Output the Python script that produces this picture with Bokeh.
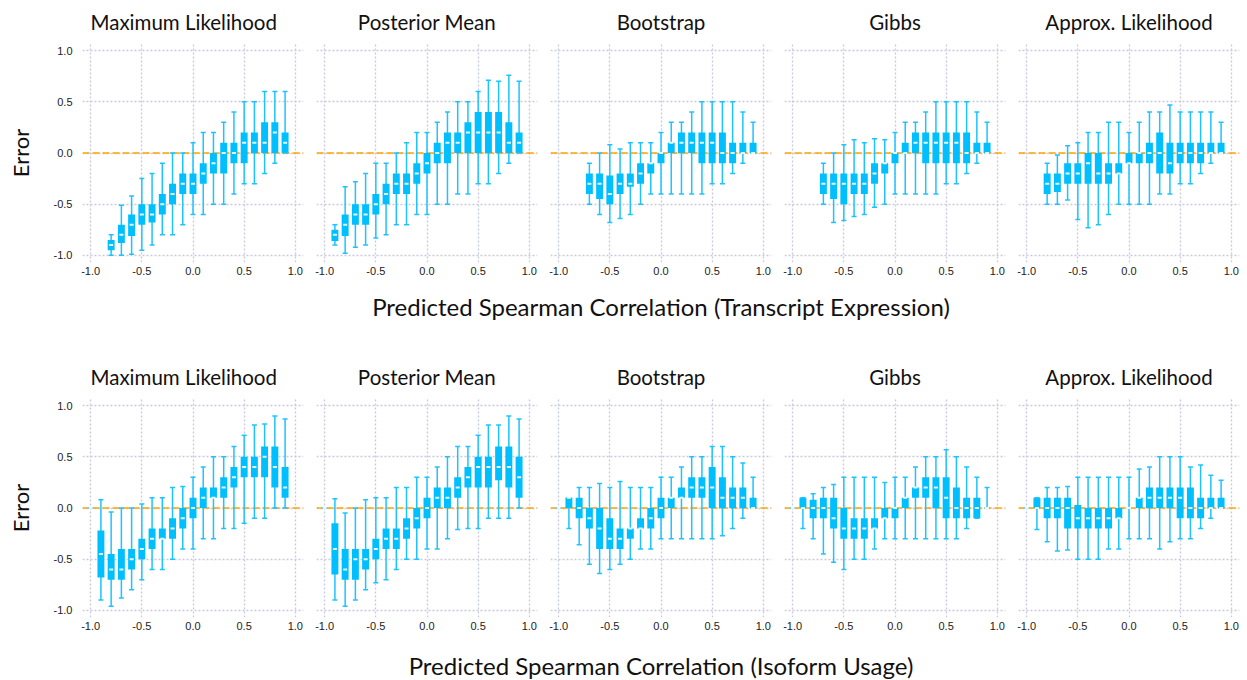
from bokeh.plotting import figure
from bokeh.layouts import column, row
from bokeh.models import Range1d, FixedTicker, Span, PrintfTickFormatter
from bokeh.embed import file_html
from bokeh.resources import INLINE

methods = ["Maximum Likelihood", "Posterior Mean", "Bootstrap", "Gibbs", "Approx. Likelihood"]
row_titles = ["Predicted Spearman Correlation (Transcript Expression)",
              "Predicted Spearman Correlation (Isoform Usage)"]
y_label = "Error"
axis_ticks = [-1.0, -0.5, 0.0, 0.5, 1.0]

# ---------------- Transcript expression ----------------
te_ml_x = [-0.8, -0.7, -0.6, -0.5, -0.4, -0.3, -0.2, -0.1, 0.0, 0.1, 0.2, 0.3, 0.4, 0.5, 0.6, 0.7, 0.8, 0.9]
te_ml_lo = [-1.0, -1.0, -0.99, -0.95, -0.9, -0.8, -0.8, -0.7, -0.6, -0.6, -0.5, -0.5, -0.4, -0.3, -0.3, -0.2, -0.1, 0.0]
te_ml_q1 = [-0.95, -0.88, -0.81, -0.7, -0.68, -0.6, -0.5, -0.4, -0.4, -0.3, -0.2, -0.2, -0.1, -0.1, 0.0, 0.0, 0.0, 0.0]
te_ml_md = [-0.9, -0.8, -0.7, -0.6, -0.6, -0.5, -0.4, -0.3, -0.3, -0.2, -0.1, 0.0, 0.0, 0.1, 0.1, 0.1, 0.2, 0.1]
te_ml_q3 = [-0.85, -0.7, -0.6, -0.5, -0.5, -0.4, -0.3, -0.2, -0.2, -0.1, 0.0, 0.1, 0.1, 0.2, 0.2, 0.3, 0.3, 0.2]
te_ml_hi = [-0.8, -0.51, -0.42, -0.25, -0.2, -0.1, 0.0, 0.0, 0.1, 0.2, 0.2, 0.3, 0.4, 0.5, 0.5, 0.6, 0.6, 0.6]

te_pm_x = [-0.9, -0.8, -0.7, -0.6, -0.5, -0.4, -0.3, -0.2, -0.1, 0.0, 0.1, 0.2, 0.3, 0.4, 0.5, 0.6, 0.7, 0.8, 0.9]
te_pm_lo = [-0.9, -0.98, -0.92, -0.9, -0.83, -0.8, -0.7, -0.7, -0.6, -0.6, -0.5, -0.5, -0.4, -0.4, -0.3, -0.3, -0.2, -0.1, 0.0]
te_pm_q1 = [-0.86, -0.81, -0.7, -0.7, -0.6, -0.5, -0.4, -0.4, -0.3, -0.2, -0.1, -0.1, 0.0, 0.0, 0.0, 0.0, 0.0, 0.0, 0.0]
te_pm_md = [-0.8, -0.7, -0.6, -0.6, -0.5, -0.4, -0.3, -0.3, -0.2, -0.1, 0.0, 0.1, 0.1, 0.2, 0.2, 0.2, 0.2, 0.1, 0.1]
te_pm_q3 = [-0.75, -0.6, -0.5, -0.5, -0.4, -0.3, -0.2, -0.2, -0.1, 0.0, 0.1, 0.2, 0.2, 0.3, 0.4, 0.4, 0.4, 0.3, 0.2]
te_pm_hi = [-0.7, -0.33, -0.28, -0.2, -0.1, -0.1, 0.0, 0.1, 0.2, 0.2, 0.3, 0.4, 0.5, 0.5, 0.6, 0.71, 0.7, 0.76, 0.7]

te_bs_x = [-0.7, -0.6, -0.5, -0.4, -0.3, -0.2, -0.1, 0.0, 0.1, 0.2, 0.3, 0.4, 0.5, 0.6, 0.7, 0.8, 0.9]
te_bs_lo = [-0.5, -0.6, -0.68, -0.64, -0.6, -0.5, -0.4, -0.4, -0.4, -0.4, -0.4, -0.4, -0.3, -0.3, -0.2, -0.1, 0.0]
te_bs_q1 = [-0.4, -0.45, -0.5, -0.4, -0.33, -0.3, -0.2, -0.1, 0.0, 0.0, 0.0, -0.1, -0.1, -0.1, -0.1, 0.0, 0.0]
te_bs_md = [-0.3, -0.3, -0.4, -0.3, -0.3, -0.2, -0.1, 0.0, 0.1, 0.1, 0.1, 0.1, 0.1, 0.0, 0.0, 0.0, 0.0]
te_bs_q3 = [-0.2, -0.2, -0.22, -0.2, -0.2, -0.1, -0.1, 0.0, 0.1, 0.2, 0.2, 0.2, 0.2, 0.2, 0.1, 0.1, 0.1]
te_bs_hi = [-0.1, 0.0, 0.08, 0.04, 0.1, 0.1, 0.1, 0.2, 0.3, 0.3, 0.4, 0.5, 0.5, 0.5, 0.5, 0.4, 0.3]

te_gb_x = [-0.7, -0.6, -0.5, -0.4, -0.3, -0.2, -0.1, 0.0, 0.1, 0.2, 0.3, 0.4, 0.5, 0.6, 0.7, 0.8, 0.9]
te_gb_lo = [-0.5, -0.68, -0.66, -0.62, -0.6, -0.53, -0.5, -0.4, -0.4, -0.4, -0.4, -0.4, -0.3, -0.3, -0.2, -0.1, 0.0]
te_gb_q1 = [-0.4, -0.45, -0.5, -0.4, -0.4, -0.3, -0.2, -0.1, 0.0, 0.0, -0.1, -0.1, -0.1, -0.1, -0.1, 0.0, 0.0]
te_gb_md = [-0.3, -0.3, -0.3, -0.3, -0.3, -0.2, -0.1, 0.0, 0.0, 0.1, 0.1, 0.1, 0.1, 0.1, 0.0, 0.0, 0.0]
te_gb_q3 = [-0.2, -0.2, -0.2, -0.2, -0.2, -0.1, -0.1, 0.0, 0.1, 0.2, 0.2, 0.2, 0.2, 0.2, 0.2, 0.1, 0.1]
te_gb_hi = [-0.1, 0.0, 0.08, 0.13, 0.1, 0.14, 0.13, 0.2, 0.3, 0.3, 0.4, 0.5, 0.5, 0.5, 0.5, 0.4, 0.3]

te_al_x = [-0.8, -0.7, -0.6, -0.5, -0.4, -0.3, -0.2, -0.1, 0.0, 0.1, 0.2, 0.3, 0.4, 0.5, 0.6, 0.7, 0.8, 0.9]
te_al_lo = [-0.5, -0.5, -0.46, -0.65, -0.73, -0.7, -0.6, -0.5, -0.5, -0.5, -0.5, -0.4, -0.4, -0.3, -0.3, -0.2, -0.1, 0.0]
te_al_q1 = [-0.4, -0.38, -0.3, -0.3, -0.3, -0.3, -0.3, -0.2, -0.1, -0.1, -0.1, -0.2, -0.2, -0.1, -0.1, -0.1, 0.0, 0.0]
te_al_md = [-0.3, -0.3, -0.2, -0.2, -0.1, -0.2, -0.2, -0.2, -0.1, 0.0, 0.0, 0.0, -0.1, 0.0, 0.0, 0.0, 0.0, 0.0]
te_al_q3 = [-0.2, -0.2, -0.1, -0.1, 0.0, 0.0, -0.1, -0.1, 0.0, 0.0, 0.1, 0.2, 0.1, 0.1, 0.1, 0.1, 0.1, 0.1]
te_al_hi = [-0.1, -0.02, 0.07, 0.1, 0.2, 0.2, 0.3, 0.3, 0.2, 0.3, 0.4, 0.4, 0.47, 0.4, 0.4, 0.4, 0.4, 0.3]

# ---------------- Isoform usage ----------------
iu_x = [-1.0, -0.9, -0.8, -0.7, -0.6, -0.5, -0.4, -0.3, -0.2, -0.1, 0.0, 0.1, 0.2, 0.3, 0.4, 0.5, 0.6, 0.7, 0.8, 0.9]

iu_ml_lo = [0.0, -0.9, -0.96, -0.88, -0.8, -0.7, -0.6, -0.6, -0.5, -0.4, -0.4, -0.3, -0.3, -0.2, -0.2, -0.15, -0.1, -0.1, 0.0, 0.0]
iu_ml_q1 = [0.0, -0.68, -0.7, -0.7, -0.6, -0.5, -0.4, -0.3, -0.3, -0.2, -0.1, 0.0, 0.1, 0.1, 0.2, 0.3, 0.3, 0.3, 0.2, 0.1]
iu_ml_md = [0.0, -0.45, -0.6, -0.6, -0.5, -0.4, -0.3, -0.3, -0.2, -0.1, 0.0, 0.1, 0.1, 0.2, 0.3, 0.4, 0.4, 0.5, 0.4, 0.2]
iu_ml_q3 = [0.0, -0.22, -0.45, -0.4, -0.4, -0.3, -0.2, -0.2, -0.1, 0.0, 0.1, 0.2, 0.2, 0.3, 0.4, 0.5, 0.5, 0.6, 0.6, 0.4]
iu_ml_hi = [0.0, 0.08, -0.04, 0.0, 0.0, 0.04, 0.1, 0.1, 0.2, 0.21, 0.3, 0.4, 0.5, 0.5, 0.6, 0.71, 0.81, 0.82, 0.9, 0.87]

iu_pm_lo = [0.0, -0.9, -0.96, -0.9, -0.8, -0.73, -0.7, -0.6, -0.5, -0.5, -0.4, -0.4, -0.3, -0.21, -0.2, -0.2, -0.1, -0.1, -0.1, 0.0]
iu_pm_q1 = [0.0, -0.65, -0.7, -0.7, -0.6, -0.5, -0.4, -0.4, -0.3, -0.2, -0.1, 0.0, 0.0, 0.1, 0.2, 0.2, 0.2, 0.27, 0.2, 0.1]
iu_pm_md = [0.0, -0.4, -0.6, -0.5, -0.5, -0.4, -0.3, -0.3, -0.2, -0.1, 0.0, 0.1, 0.1, 0.2, 0.3, 0.4, 0.4, 0.4, 0.4, 0.3]
iu_pm_q3 = [0.0, -0.15, -0.4, -0.4, -0.4, -0.3, -0.2, -0.2, -0.1, 0.0, 0.1, 0.2, 0.2, 0.3, 0.4, 0.5, 0.5, 0.6, 0.6, 0.5]
iu_pm_hi = [0.0, 0.09, -0.05, 0.0, 0.08, 0.1, 0.1, 0.2, 0.2, 0.3, 0.3, 0.4, 0.5, 0.6, 0.6, 0.71, 0.81, 0.81, 0.9, 0.87]

iu_bs_lo = [0.0, -0.2, -0.36, -0.55, -0.64, -0.6, -0.55, -0.5, -0.4, -0.4, -0.3, -0.3, -0.3, -0.3, -0.3, -0.3, -0.27, -0.2, -0.1, 0.0]
iu_bs_q1 = [0.0, 0.0, -0.1, -0.2, -0.4, -0.4, -0.4, -0.3, -0.2, -0.2, -0.1, 0.0, 0.1, 0.1, 0.1, 0.0, 0.0, 0.0, 0.0, 0.0]
iu_bs_md = [0.0, 0.1, 0.0, -0.1, -0.2, -0.3, -0.3, -0.2, -0.2, -0.1, 0.0, 0.1, 0.1, 0.2, 0.2, 0.2, 0.1, 0.1, 0.1, 0.0]
iu_bs_q3 = [0.0, 0.1, 0.1, 0.0, 0.0, -0.1, -0.2, -0.2, -0.1, 0.0, 0.1, 0.1, 0.2, 0.3, 0.3, 0.4, 0.3, 0.2, 0.2, 0.1]
iu_bs_hi = [0.0, 0.1, 0.2, 0.2, 0.24, 0.2, 0.26, 0.2, 0.2, 0.2, 0.3, 0.3, 0.4, 0.5, 0.5, 0.6, 0.6, 0.5, 0.44, 0.3]

iu_gb_lo = [0.0, -0.2, -0.3, -0.45, -0.53, -0.6, -0.5, -0.5, -0.4, -0.3, -0.3, -0.3, -0.3, -0.3, -0.3, -0.3, -0.3, -0.2, -0.1, 0.0]
iu_gb_q1 = [0.0, 0.0, -0.1, -0.1, -0.2, -0.3, -0.3, -0.3, -0.2, -0.1, -0.1, 0.0, 0.1, 0.1, 0.0, -0.1, -0.1, -0.1, -0.1, 0.0]
iu_gb_md = [0.0, 0.0, 0.0, 0.0, -0.1, -0.2, -0.2, -0.2, -0.2, -0.1, 0.0, 0.1, 0.2, 0.2, 0.2, 0.1, 0.0, 0.0, 0.0, 0.0]
iu_gb_q3 = [0.0, 0.1, 0.08, 0.1, 0.1, 0.0, -0.1, -0.1, -0.1, 0.0, 0.0, 0.1, 0.2, 0.3, 0.3, 0.3, 0.2, 0.1, 0.1, 0.0]
iu_gb_hi = [0.0, 0.1, 0.14, 0.2, 0.23, 0.3, 0.3, 0.3, 0.3, 0.25, 0.3, 0.3, 0.4, 0.5, 0.5, 0.57, 0.5, 0.4, 0.3, 0.2]

iu_al_lo = [0.0, -0.21, -0.33, -0.42, -0.41, -0.5, -0.5, -0.5, -0.4, -0.4, -0.3, -0.3, -0.3, -0.4, -0.33, -0.3, -0.3, -0.2, -0.1, 0.0]
iu_al_q1 = [0.0, 0.0, -0.1, -0.1, -0.2, -0.2, -0.2, -0.2, -0.2, -0.1, 0.0, 0.0, 0.0, 0.0, 0.0, -0.1, -0.1, -0.1, 0.0, 0.0]
iu_al_md = [0.0, 0.0, 0.0, 0.0, 0.0, -0.1, -0.1, -0.1, -0.1, -0.1, 0.0, 0.1, 0.1, 0.1, 0.1, 0.1, 0.0, 0.0, 0.0, 0.0]
iu_al_q3 = [0.0, 0.1, 0.1, 0.1, 0.1, 0.03, 0.0, 0.0, 0.0, 0.0, 0.0, 0.1, 0.2, 0.2, 0.2, 0.2, 0.2, 0.1, 0.1, 0.1]
iu_al_hi = [0.0, 0.1, 0.2, 0.2, 0.21, 0.3, 0.3, 0.3, 0.3, 0.3, 0.3, 0.38, 0.4, 0.5, 0.5, 0.5, 0.4, 0.42, 0.32, 0.27]

BOX = "#00BFFF"
WHISK = "#1CC3FF"
MED = "#E4FAFF"
GRID = "#C9C9DE"
ZERO = "#FFA500"

FRAME_W, FRAME_H = 221, 219


def panel(title, xs, lo, q1, md, q3, hi, first, top_border, title_standoff, title_valign, bottom_border):
    p = figure(frame_width=FRAME_W, frame_height=FRAME_H,
               x_range=Range1d(-1.08, 1.08), y_range=Range1d(-1.07, 1.07),
               output_backend="svg", toolbar_location=None,
               y_axis_location="left" if first else None,
               title=title,
               min_border_left=82 if first else 6, min_border_right=7,
               min_border_top=top_border, min_border_bottom=bottom_border)
    p.outline_line_color = None
    p.title.text_font = "Lato"
    p.title.text_font_size = "20.5px"
    p.title.text_font_style = "normal"
    p.title.text_color = "#111111"
    if first:
        p.title.align = "left"
        p.title.offset = 8
    else:
        p.title.align = "center"
    p.title.standoff = title_standoff
    p.title.vertical_align = title_valign

    axes = list(p.xaxis) + (list(p.yaxis) if first else [])
    for ax in axes:
        ax.ticker = FixedTicker(ticks=axis_ticks)
        ax.formatter = PrintfTickFormatter(format="%.1f")
        ax.axis_line_color = None
        ax.major_tick_line_color = None
        ax.minor_tick_line_color = None
        ax.major_tick_out = 0
        ax.major_tick_in = 0
        ax.major_label_text_font = "Liberation Sans"
        ax.major_label_text_font_size = "11px"
        ax.major_label_text_color = "#222222"
    p.xaxis.major_label_standoff = 4
    if first:
        p.yaxis.major_label_standoff = 10
        p.yaxis.axis_label = y_label
        p.yaxis.axis_label_text_font = "Lato"
        p.yaxis.axis_label_text_font_size = "22px"
        p.yaxis.axis_label_text_font_style = "normal"
        p.yaxis.axis_label_text_color = "#111111"
        p.yaxis.axis_label_standoff = 17

    for g in p.xgrid:
        g.ticker = FixedTicker(ticks=axis_ticks)
    for g in p.ygrid:
        g.ticker = FixedTicker(ticks=axis_ticks)
    p.grid.grid_line_color = GRID
    p.grid.grid_line_dash = "2 2"
    p.grid.grid_line_width = 1.3

    p.add_layout(Span(location=0, dimension="width", line_color=ZERO,
                      line_dash="7 3", line_width=1.5, level="underlay"))

    src = dict(x=xs, lo=lo, q1=q1, md=md, q3=q3, hi=hi)
    p.segment(x0="x", y0="lo", x1="x", y1="hi", source=src,
              line_color=WHISK, line_width=1.5)
    p.vbar(x="x", width=0.068, bottom="q1", top="q3", source=src,
           fill_color=BOX, line_color=None)
    p.scatter(x="x", y="lo", source=src, marker="dash", size=5,
              line_color=WHISK, line_width=1.5)
    p.scatter(x="x", y="hi", source=src, marker="dash", size=5,
              line_color=WHISK, line_width=1.5)
    p.rect(x="x", y="md", width=4, height=2, width_units="screen",
           height_units="screen", source=src, fill_color=MED, line_color=None)
    return p


def label_fig(text, height, top_border):
    p = figure(width=1246, height=height, x_range=Range1d(0, 1), y_range=Range1d(0, 1),
               output_backend="svg", toolbar_location=None,
               x_axis_location=None, y_axis_location=None, title=text,
               min_border_left=82, min_border_right=7,
               min_border_top=top_border, min_border_bottom=0)
    p.outline_line_color = None
    p.grid.visible = False
    p.title.text_font = "Lato"
    p.title.text_font_size = "24px"
    p.title.text_font_style = "normal"
    p.title.text_color = "#111111"
    p.title.align = "center"
    p.title.standoff = 0
    return p


te = [(te_ml_x, te_ml_lo, te_ml_q1, te_ml_md, te_ml_q3, te_ml_hi),
      (te_pm_x, te_pm_lo, te_pm_q1, te_pm_md, te_pm_q3, te_pm_hi),
      (te_bs_x, te_bs_lo, te_bs_q1, te_bs_md, te_bs_q3, te_bs_hi),
      (te_gb_x, te_gb_lo, te_gb_q1, te_gb_md, te_gb_q3, te_gb_hi),
      (te_al_x, te_al_lo, te_al_q1, te_al_md, te_al_q3, te_al_hi)]
iu = [(iu_x, iu_ml_lo, iu_ml_q1, iu_ml_md, iu_ml_q3, iu_ml_hi),
      (iu_x, iu_pm_lo, iu_pm_q1, iu_pm_md, iu_pm_q3, iu_pm_hi),
      (iu_x, iu_bs_lo, iu_bs_q1, iu_bs_md, iu_bs_q3, iu_bs_hi),
      (iu_x, iu_gb_lo, iu_gb_q1, iu_gb_md, iu_gb_q3, iu_gb_hi),
      (iu_x, iu_al_lo, iu_al_q1, iu_al_md, iu_al_q3, iu_al_hi)]

row1 = row([panel(m, *d, first=(i == 0), top_border=43, title_standoff=16, title_valign="top",
                  bottom_border=23)
            for i, (m, d) in enumerate(zip(methods, te))])
row2 = row([panel(m, *d, first=(i == 0), top_border=53, title_standoff=19, title_valign="bottom",
                  bottom_border=21)
            for i, (m, d) in enumerate(zip(methods, iu))])
lab1 = label_fig(row_titles[0], 60, 35)
lab2 = label_fig(row_titles[1], 42, 41)

layout = column(row1, lab1, row2, lab2)

with open("out.html", "w") as f:
    f.write(file_html(layout, INLINE))
